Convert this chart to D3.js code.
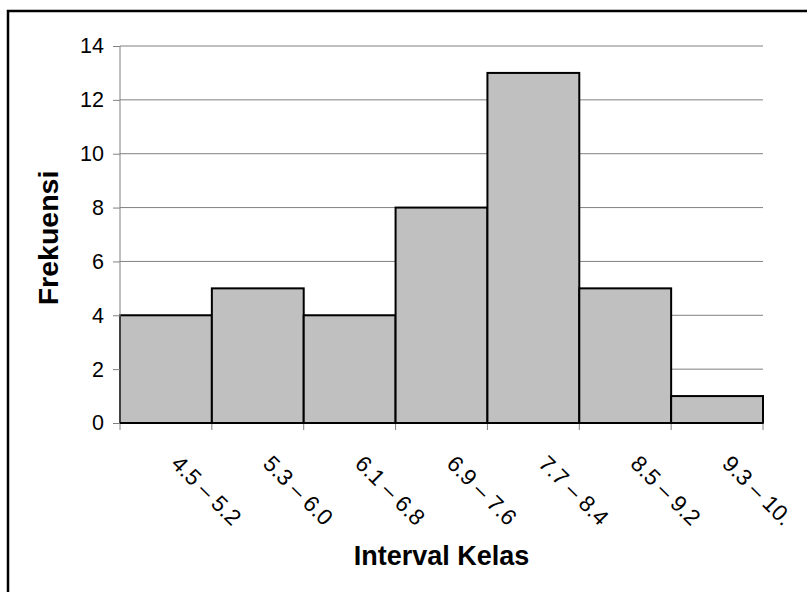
<!DOCTYPE html>
<html>
<head>
<meta charset="utf-8">
<script src="https://cdn.jsdelivr.net/npm/d3@7"></script>
<style>
  html, body { margin: 0; padding: 0; background: #fff; }
  svg { display: block; }
  text { font-family: Arial, "Liberation Sans", sans-serif; fill: #000; }
</style>
</head>
<body>
<svg id="chart" width="807" height="592"></svg>
<script>
// Class intervals and their frequencies
const categories = ["4.5 – 5.2", "5.3 – 6.0", "6.1 – 6.8", "6.9 – 7.6", "7.7 – 8.4", "8.5 – 9.2", "9.3 – 10."];
const frequencies = [4, 5, 4, 8, 13, 5, 1];
const yTicks = [0, 2, 4, 6, 8, 10, 12, 14];
const xTitle = "Interval Kelas";
const yTitle = "Frekuensi";

const svg = d3.select("#chart");
const W = 807, H = 592;
const plot = { left: 120, right: 763, top: 46, bottom: 423 };
const FONT = "Arial, 'Liberation Sans', sans-serif";

// Outer frame (runs past the right and bottom edges)
svg.append("rect")
  .attr("x", 8).attr("y", 11)
  .attr("width", W + 20).attr("height", H + 20)
  .attr("fill", "none").attr("stroke", "#000").attr("stroke-width", 2.5);

const x = d3.scaleBand().domain(categories).range([plot.left, plot.right]).padding(0);
const y = d3.scaleLinear().domain([0, 14]).range([plot.bottom, plot.top]);

// Horizontal gridlines
svg.append("g").selectAll("line").data(yTicks.filter(d => d > 0)).join("line")
  .attr("x1", plot.left).attr("x2", plot.right)
  .attr("y1", d => y(d)).attr("y2", d => y(d))
  .attr("stroke", "#808080").attr("stroke-width", 1);

// Bars
svg.append("g").selectAll("rect").data(frequencies).join("rect")
  .attr("x", (d, i) => x(categories[i]))
  .attr("y", d => y(d))
  .attr("width", x.bandwidth())
  .attr("height", d => y(0) - y(d))
  .attr("fill", "#c0c0c0")
  .attr("stroke", "#000").attr("stroke-width", 2);

// Y axis
const yAxis = d3.axisLeft(y).tickValues(yTicks).tickSize(7).tickPadding(9).tickFormat(d3.format("d"));
const gy = svg.append("g").attr("transform", `translate(${plot.left},0)`).call(yAxis)
  .attr("font-size", 21.5).attr("font-family", FONT);
gy.select(".domain").attr("stroke", "#808080").attr("d", `M0,${plot.bottom}V${plot.top}`);
gy.selectAll(".tick line").attr("stroke", "#808080");

// X axis: tick marks at category boundaries
const bounds = categories.map(c => x(c)).concat([plot.right]);
svg.append("g").selectAll("line").data(bounds).join("line")
  .attr("x1", d => d).attr("x2", d => d)
  .attr("y1", plot.bottom).attr("y2", plot.bottom + 7)
  .attr("stroke", "#808080").attr("stroke-width", 1);
svg.append("line")
  .attr("x1", plot.left).attr("x2", plot.right)
  .attr("y1", plot.bottom).attr("y2", plot.bottom)
  .attr("stroke", "#000").attr("stroke-width", 2);

// Rotated category labels
svg.append("g").selectAll("text").data(categories).join("text")
  .attr("transform", d => `translate(${x(d) + x.bandwidth() / 2 + 4},465) rotate(45)`)
  .attr("text-anchor", "start")
  .attr("font-size", 22.5)
  .text(d => d);

// Axis titles
svg.append("text")
  .attr("x", (plot.left + plot.right) / 2).attr("y", 565)
  .attr("text-anchor", "middle")
  .attr("font-size", 27).attr("font-weight", "bold")
  .text(xTitle);

svg.append("text")
  .attr("transform", `translate(58,238) rotate(-90)`)
  .attr("text-anchor", "middle")
  .attr("font-size", 28.5).attr("font-weight", "bold")
  .text(yTitle);
</script>
</body>
</html>
